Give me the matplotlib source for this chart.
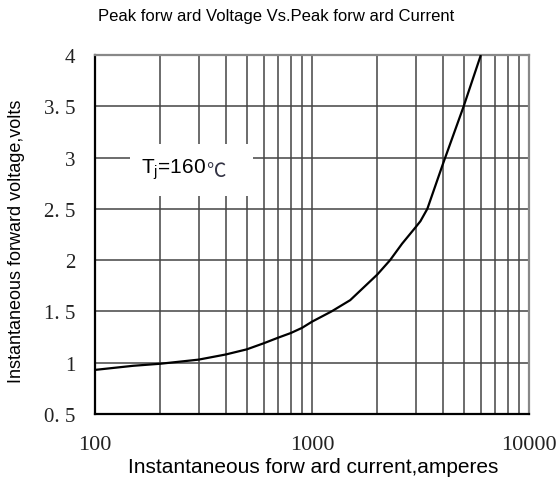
import matplotlib
matplotlib.use("Agg")
import matplotlib.pyplot as plt
from matplotlib.patches import Rectangle
from matplotlib.ticker import FixedLocator, NullFormatter, LogLocator

# data
current = [100, 150, 200, 300, 400, 500, 600, 700, 800, 900, 1000, 1230, 1500,
           2000, 2290, 2600, 3000, 3160, 3400, 4000, 5000, 6000]
voltage = [0.93, 0.97, 0.99, 1.03, 1.08, 1.13, 1.19, 1.245, 1.29, 1.34, 1.40, 1.50, 1.61,
           1.86, 2.00, 2.16, 2.32, 2.38, 2.50, 2.93, 3.50, 4.00]
x_ticks = [100, 1000, 10000]
x_tick_labels = ["100", "1000", "10000"]
y_ticks = [0.5, 1, 1.5, 2, 2.5, 3, 3.5, 4]
y_tick_labels = ["0. 5", "1", "1. 5", "2", "2. 5", "3", "3. 5", "4"]

plt.rcParams['mathtext.fontset'] = 'custom'
plt.rcParams['mathtext.rm'] = 'Liberation Sans'
plt.rcParams['mathtext.it'] = 'Liberation Sans'

fig = plt.figure(figsize=(5.57, 4.85), dpi=100)
ax = fig.add_axes([95/557, 1-415/485, 434/557, 359/485])

ax.set_xscale('log')
ax.set_xlim(100, 10000)
ax.set_ylim(0.5, 4)

ax.plot(current, voltage, color='black', lw=1.6, zorder=3, solid_capstyle='butt')

ax.xaxis.set_major_locator(FixedLocator(x_ticks))
ax.set_xticklabels(x_tick_labels)
ax.xaxis.set_minor_locator(LogLocator(base=10, subs=range(2, 10)))
ax.xaxis.set_minor_formatter(NullFormatter())
ax.set_yticks(y_ticks)
ax.set_yticklabels(y_tick_labels)

ax.set_axisbelow(True)
ax.grid(which='both', axis='x', color='#444444', lw=1.1)
ax.grid(which='major', axis='y', color='#444444', lw=1.1)

ax.tick_params(which='both', length=0)
ax.tick_params(axis='x', pad=15, labelsize=16, labelcolor='#222222')
ax.tick_params(axis='y', pad=14, labelsize=15, labelcolor='#222222')
for lab in ax.get_xticklabels() + ax.get_yticklabels():
    lab.set_fontfamily('Liberation Serif')

for s in ['left', 'bottom']:
    ax.spines[s].set_color('black')
    ax.spines[s].set_linewidth(1.6)
for s in ['top', 'right']:
    ax.spines[s].set_color('#888888')
    ax.spines[s].set_linewidth(1.6)

# white label box
ax.add_patch(Rectangle((35/434, 218/359), 123/434, 52/359, transform=ax.transAxes,
                       facecolor='white', edgecolor='none', zorder=1))
t1 = ax.text(46/434, 241/359, r"T$_\mathrm{j}$=160", transform=ax.transAxes,
             fontsize=15, family='Liberation Sans', va='baseline', ha='left', zorder=4)
ax.annotate("℃", xy=(1, 0), xycoords=t1, va='bottom', ha='left', fontsize=14,
            family=['Noto Sans CJK SC', 'DejaVu Sans'], color='#333344', zorder=4)

fig.text(276/557, 1-17/485, "Peak forw ard Voltage Vs.Peak forw ard Current",
         ha='center', va='center', fontsize=12, family='Liberation Sans')
fig.text(313/557, 1-468/485, "Instantaneous forw ard current,amperes",
         ha='center', va='center', fontsize=15, family='Liberation Sans')
fig.text(17/557, 1-241/485, "Instantaneous forward voltage,volts", rotation=90,
         ha='center', va='center', fontsize=13, family='Liberation Sans')

fig.savefig("out.png", dpi=100)
